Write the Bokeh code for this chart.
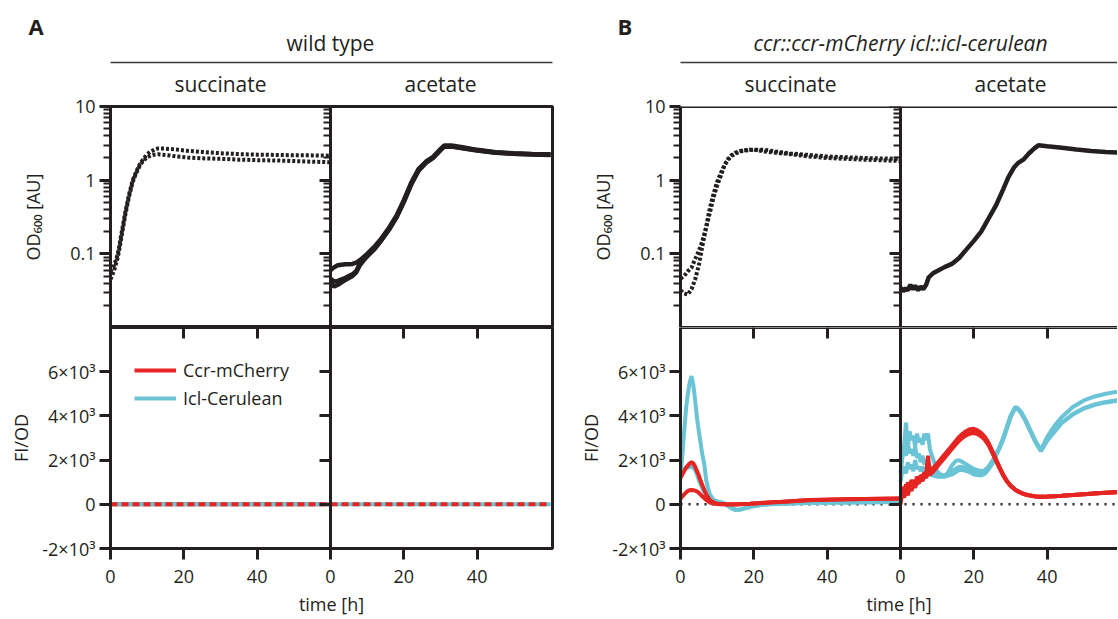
from bokeh.plotting import figure
from bokeh.models import (Range1d, LinearAxis, LogAxis, FixedTicker,
                          CustomJSTickFormatter, Legend, LegendItem, Span)
from bokeh.layouts import row, column
from bokeh.embed import file_html
from bokeh.resources import INLINE
from bokeh.core.properties import value

# ------------------------------------------------------------------ data
# wild type, succinate: OD600 (2 replicates)
WT_SUC_T = [0, 1, 2, 3, 4, 5, 6, 7, 8, 9, 10, 11, 12, 13, 15, 18, 21, 25, 30, 35, 40, 45, 50, 55, 60]
WT_SUC_OD_R1 = [0.057, 0.070, 0.100, 0.190, 0.360, 0.620, 0.980, 1.30, 1.65, 1.95, 2.25, 2.45, 2.60,
                2.70, 2.68, 2.60, 2.50, 2.42, 2.32, 2.26, 2.22, 2.20, 2.18, 2.17, 2.15]
WT_SUC_OD_R2 = [0.045, 0.060, 0.090, 0.170, 0.330, 0.580, 0.930, 1.25, 1.58, 1.85, 2.05, 2.15, 2.22,
                2.25, 2.20, 2.10, 2.03, 1.98, 1.95, 1.90, 1.87, 1.85, 1.82, 1.78, 1.75]

# wild type, acetate: OD600 (3 replicates)
WT_ACE_T = [0, 1, 2, 3, 4, 5, 6, 7, 8, 9, 10, 12, 14, 16, 18, 20, 22, 24, 26, 28, 30,
            31, 33, 36, 40, 45, 50, 55, 60]
WT_ACE_OD_R1 = [0.060, 0.066, 0.070, 0.071, 0.072, 0.072, 0.073, 0.076, 0.082, 0.090, 0.100,
                0.125, 0.165, 0.228, 0.330, 0.535, 0.92, 1.41, 1.78, 2.08, 2.64,
                2.95, 2.95, 2.79, 2.58, 2.40, 2.32, 2.27, 2.24]
WT_ACE_OD_R2 = [0.046, 0.042, 0.043, 0.045, 0.047, 0.050, 0.053, 0.058, 0.074, 0.084, 0.094,
                0.118, 0.158, 0.218, 0.318, 0.515, 0.89, 1.36, 1.73, 2.03, 2.58,
                2.88, 2.88, 2.73, 2.54, 2.37, 2.29, 2.24, 2.21]
WT_ACE_OD_R3 = [0.040, 0.036, 0.038, 0.041, 0.044, 0.047, 0.050, 0.056, 0.070, 0.081, 0.092,
                0.116, 0.155, 0.214, 0.312, 0.505, 0.87, 1.34, 1.71, 2.01, 2.55,
                2.85, 2.86, 2.71, 2.52, 2.36, 2.28, 2.23, 2.20]

# wild type: FI/OD (no reporter -> zero)
WT_FI_T = [0, 60]
WT_SUC_CCR = [0, 0]
WT_SUC_ICL = [0, 0]
WT_ACE_CCR = [0, 0]
WT_ACE_ICL = [0, 0]

# reporter strain, succinate: OD600 (2 replicates)
RP_SUC_T = [0, 1, 2, 3, 4, 5, 6, 7, 8, 9, 10, 11, 12, 13, 14, 15, 17, 20, 23, 26, 30, 35, 40, 45, 50, 55, 60]
RP_SUC_OD_R1 = [0.046, 0.050, 0.058, 0.065, 0.085, 0.110, 0.150, 0.230, 0.360, 0.580, 0.850,
                1.15, 1.60, 1.90, 2.14, 2.30, 2.50, 2.60, 2.58, 2.45, 2.30,
                2.20, 2.10, 2.05, 2.00, 1.97, 1.95]
RP_SUC_OD_R2 = [0.032, 0.029, 0.028, 0.033, 0.045, 0.070, 0.130, 0.230, 0.420, 0.650, 0.950,
                1.25, 1.60, 1.95, 2.20, 2.37, 2.55, 2.60, 2.45, 2.35, 2.25,
                2.10, 2.00, 1.95, 1.90, 1.86, 1.82]

# reporter strain, acetate: OD600
RP_ACE_T = [0, 0.7, 1.4, 2.0, 2.7, 3.4, 4.0, 4.8, 5.5, 6.2, 7.0, 7.7, 9, 10.4, 12, 14, 16, 18,
            20, 22, 24, 26, 28, 29.4, 31, 32, 33.5, 35, 36.5, 37.6, 40, 44, 48, 52, 56, 60]
RP_ACE_OD = [0.035, 0.031, 0.034, 0.032, 0.038, 0.033, 0.037, 0.032, 0.036, 0.033, 0.038, 0.048,
             0.055, 0.060, 0.066, 0.073, 0.088, 0.115, 0.150, 0.200, 0.300, 0.450, 0.750,
             1.09, 1.50, 1.70, 1.90, 2.30, 2.70, 2.97, 2.88, 2.76, 2.60, 2.48, 2.42, 2.37]

# reporter strain, succinate: FI/OD
RP_SUC_FI_T = [0, 0.5, 1, 1.5, 2, 2.5, 3, 3.5, 4, 4.5, 5, 5.5, 6, 6.5, 7, 7.5, 8, 9, 10, 11, 12,
               13, 14, 15, 16, 17, 19, 21, 24, 28, 35, 45, 55, 60]
RP_SUC_ICL_R1 = [1300, 2200, 3300, 4300, 5000, 5500, 5800, 5400, 4700, 3900, 3300, 2750, 2200, 1800,
                 1100, 750, 450, 200, 130, 100, 40, -80, -200, -260, -250, -200, -120, -60, 0, 40,
                 70, 90, 100, 100]
RP_SUC_ICL_R2 = [1400, 1500, 1600, 1650, 1650, 1700, 1700, 1650, 1550, 1350, 1100, 900, 700, 550,
                 400, 300, 200, 100, 70, 50, 20, -50, -150, -230, -250, -200, -100, -50, 0, 30,
                 55, 75, 90, 100]
RP_SUC_CCR_R1 = [1200, 1350, 1500, 1650, 1750, 1850, 1900, 1850, 1700, 1500, 1300, 1050, 850, 650,
                 450, 320, 200, 80, 30, 10, 0, -10, -10, -10, 0, 10, 20, 50, 80, 120, 190, 230,
                 255, 265]
RP_SUC_CCR_R2 = [250, 350, 450, 530, 600, 640, 650, 640, 620, 580, 520, 440, 350, 280, 200, 140,
                 80, 30, 10, 0, 0, 0, 0, 0, 5, 10, 20, 45, 80, 115, 185, 225, 250, 260]

# reporter strain, acetate: FI/OD
RP_ACE_FI_T = [0, 0.5, 1, 1.5, 2, 2.5, 3, 3.5, 4, 4.5, 5, 5.5, 6, 6.5, 7, 7.5, 8,
               9, 10, 11, 12, 13, 14, 15, 16, 17, 18, 19, 20, 21, 22, 23, 24, 25, 26, 27, 28, 29, 30,
               31.3, 32, 33, 34, 35, 36, 37, 38.3, 39, 40,
               42, 44, 47, 50, 53, 56, 60]
RP_ACE_ICL_R1 = [2000, 2400, 2700, 3700, 2600, 3300, 2900, 3100, 2600, 3200, 2800, 3000, 2700, 3200, 2900, 3200, 2500,
                 2000, 1500, 1300, 1250, 1450, 1750, 1950, 2000, 1900, 1800, 1700, 1600, 1550, 1500, 1550, 1700,
                 1950, 2250, 2600, 3000, 3500, 4000,
                 4400, 4350, 4150, 3850, 3500, 3150, 2800, 2450, 2700, 3050,
                 3550, 3950, 4400, 4700, 4880, 5000, 5120]
RP_ACE_ICL_R2 = [1400, 2100, 2400, 2200, 2800, 2300, 2500, 2200, 2600, 2100, 2300, 1900, 2200, 1800, 2000, 1750, 1700,
                 1500, 1400, 1350, 1300, 1400, 1500, 1600, 1700, 1680, 1620, 1550, 1450, 1400, 1350, 1400, 1600,
                 1850, 2200, 2550, 2950, 3450, 3950,
                 4380, 4330, 4120, 3820, 3470, 3120, 2770, 2420, 2620, 2900,
                 3300, 3700, 4080, 4350, 4520, 4630, 4730]
RP_ACE_ICL_R3 = [1000, 1500, 1700, 1400, 1900, 1600, 1800, 1500, 2000, 1600, 1700, 1500, 1700, 1450, 1500, 1400, 1350,
                 1300, 1250, 1250, 1250, 1300, 1350, 1450, 1550, 1550, 1500, 1450, 1350, 1320, 1300, 1380, 1580,
                 1830, 2180, 2530, 2930, 3430, 3930,
                 4360, 4310, 4100, 3800, 3450, 3100, 2750, 2400, 2600, 2880,
                 3280, 3680, 4060, 4330, 4500, 4610, 4710]
RP_ACE_CCR_R1 = [200, 700, 500, 900, 600, 1000, 800, 1100, 900, 1250, 1100, 1300, 1200, 1450, 1350, 2200, 1450,
                 1650, 1850, 2050, 2250, 2450, 2650, 2850, 3050, 3200, 3320, 3400, 3420, 3350, 3230, 3050, 2780,
                 2430, 2050, 1680, 1340, 1060, 850,
                 660, 590, 510, 450, 410, 380, 350, 340, 345, 350,
                 365, 385, 420, 460, 495, 525, 560]
RP_ACE_CCR_R2 = [400, 300, 800, 450, 1000, 700, 1100, 750, 1050, 900, 1150, 1050, 1350, 1200, 1450, 1350, 1550,
                 1550, 1750, 1950, 2150, 2350, 2550, 2750, 2900, 3050, 3150, 3200, 3220, 3180, 3080, 2920, 2680,
                 2350, 1990, 1640, 1310, 1040, 840,
                 655, 585, 505, 445, 405, 375, 348, 338, 343, 348,
                 362, 382, 417, 455, 490, 520, 555]
RP_ACE_CCR_R3 = [0, 500, 300, 700, 400, 800, 600, 950, 750, 1050, 950, 1200, 1050, 1300, 1200, 1400, 1350,
                 1500, 1700, 1900, 2100, 2300, 2500, 2700, 2880, 3020, 3130, 3220, 3260, 3230, 3140, 2980, 2730,
                 2390, 2020, 1660, 1325, 1050, 845,
                 658, 588, 508, 448, 408, 378, 349, 339, 344, 349,
                 363, 383, 418, 457, 492, 522, 557]

# ticks / labels
X_TICKS = [0, 20, 40]
X_TICK_LABELS = ["0", "20", "40"]
OD_TICKS = [0.1, 1, 10]
OD_TICK_LABELS = ["0.1", "1", "10"]
OD_MINOR = [0.02, 0.03, 0.04, 0.05, 0.06, 0.07, 0.08, 0.09,
            0.2, 0.3, 0.4, 0.5, 0.6, 0.7, 0.8, 0.9,
            2, 3, 4, 5, 6, 7, 8, 9]
FI_TICKS = [-2000, 0, 2000, 4000, 6000]
FI_TICK_LABELS = ["-2×10³", "0", "2×10³", "4×10³", "6×10³"]
OD_RANGE = (0.01, 10)
FI_RANGE = (-2000, 8000)
T_MAX = 60

PANEL_LETTERS = ["A", "B"]
PANEL_TITLES = ["wild type", "ccr::ccr-mCherry icl::icl-cerulean"]
MEDIA = ["succinate", "acetate"]
SERIES = ["Ccr-mCherry", "Icl-Cerulean"]
OD_LABEL = "OD₆₀₀ [AU]"
FI_LABEL = "FI/OD"
X_LABEL = "time [h]"

# ------------------------------------------------------------------ style / layout
INK = "#231F20"
RED = "#E42521"
CYAN = "#6AC4D6"
FONT = "Open Sans"
TICK_FS = "18px"
LABEL_FS = "18px"

HEADER_H = 66
TOP_BORDER = 40
FRAME_H = 221
BOTTOM_BORDER = 70
PX_PER_H = 220 / 60.0          # pixels per hour (both media share the same time scale)
SUCC_PX = 220                   # frame width of the succinate sub-panel


def fmt(ticks, labels):
    return CustomJSTickFormatter(args=dict(tv=list(ticks), tl=list(labels)), code="""
        for (let i = 0; i < tv.length; i++) {
            if (Math.abs(tick - tv[i]) <= 1e-9 * Math.max(1, Math.abs(tv[i]))) return tl[i];
        }
        return "";
    """)


def blank():
    return CustomJSTickFormatter(code="return '';")


def style_axis(ax, out=0, inn=0, mout=0, minn=0):
    ax.axis_line_color = INK
    ax.axis_line_width = 3
    ax.major_tick_line_color = INK
    ax.major_tick_line_width = 3
    ax.major_tick_out = out
    ax.major_tick_in = inn
    ax.minor_tick_line_color = INK
    ax.minor_tick_line_width = 2
    ax.minor_tick_out = mout
    ax.minor_tick_in = minn
    ax.major_label_text_font = FONT
    ax.major_label_text_font_size = TICK_FS
    ax.major_label_text_color = INK
    ax.major_label_standoff = 4
    ax.axis_label_text_font = FONT
    ax.axis_label_text_font_size = LABEL_FS
    ax.axis_label_text_font_style = "normal"
    ax.axis_label_text_color = INK
    return ax


def make_fig(height, bl, br, bt, bb, acet_px, y_rng, log, outline):
    frame_w = SUCC_PX + acet_px
    p = figure(width=bl + frame_w + br, height=height,
               x_range=Range1d(0, frame_w / PX_PER_H),
               y_range=Range1d(*y_rng),
               y_axis_type="log" if log else "linear",
               x_axis_location=None, y_axis_location=None,
               toolbar_location=None, output_backend="svg",
               min_border_left=bl, min_border_right=br,
               min_border_top=bt, min_border_bottom=bb)
    # acetate sub-panel: its own time axis, starting at the divider
    p.extra_x_ranges = {"acet": Range1d(-T_MAX, acet_px / PX_PER_H)}
    p.grid.visible = False
    p.outline_line_color = INK if outline else None
    p.outline_line_width = 3
    p.background_fill_color = "white"
    p.border_fill_color = "white"
    return p


def make_header(x0, width, letter, letter_x, title, italic, title_x, line_x0, line_x1):
    h = figure(width=width, height=HEADER_H,
               x_range=Range1d(x0, x0 + width), y_range=Range1d(HEADER_H, 0),
               x_axis_location=None, y_axis_location=None,
               toolbar_location=None, output_backend="svg", min_border=0,
               frame_align=False)
    h.grid.visible = False
    h.outline_line_color = None
    h.text(x=[letter_x], y=[25], text=[letter], text_font=value(FONT), text_font_size="22px",
           text_font_style="bold", text_color=INK, text_align="left", text_baseline="middle")
    h.text(x=[title_x], y=[42], text=[title], text_font=value(FONT), text_font_size="21px",
           text_font_style="italic" if italic else "normal", text_color=INK,
           text_align="center", text_baseline="middle")
    h.segment(x0=[line_x0], y0=[62], x1=[line_x1], y1=[62], line_color="#3a3a3a", line_width=1.5)
    return h


def build_panel(bl, br, acet_px, outline, suc_od, ace_od, suc_dash, fi_suc, fi_ace, zero_ref, legend):
    # time ticks of both sub-panels, expressed on the shared (succinate-based) axis
    t_ticks = X_TICKS + [T_MAX + t for t in X_TICKS]
    t_labels = X_TICK_LABELS + X_TICK_LABELS
    inner_ticks = [t for t in t_ticks if t not in (0, T_MAX)]
    media_pos = [T_MAX * i + T_MAX / 2 for i in range(len(MEDIA))]   # centre of each 0-60 h span

    # ---- top row: OD600
    top = make_fig(TOP_BORDER + FRAME_H, bl, br, TOP_BORDER, 0, acet_px, OD_RANGE, True, outline)
    ax = style_axis(LogAxis(ticker=FixedTicker(ticks=OD_TICKS, minor_ticks=OD_MINOR),
                            formatter=fmt(OD_TICKS, OD_TICK_LABELS), axis_label=OD_LABEL),
                    out=11, mout=7)
    ax.axis_label_standoff = 22
    top.add_layout(ax, "left")
    top.add_layout(style_axis(LogAxis(fixed_location=T_MAX,
                                      ticker=FixedTicker(ticks=OD_TICKS, minor_ticks=OD_MINOR),
                                      formatter=blank()), out=11, mout=7), "left")
    top.add_layout(style_axis(LinearAxis(fixed_location=OD_RANGE[1], ticker=FixedTicker(ticks=[]),
                                         formatter=blank())), "above")
    top.add_layout(style_axis(LinearAxis(fixed_location=OD_RANGE[0], ticker=FixedTicker(ticks=[]),
                                         formatter=blank())), "below")
    # facet (medium) names as labels of a tickless axis above the frame
    media_ax = style_axis(LinearAxis(ticker=FixedTicker(ticks=media_pos), formatter=fmt(media_pos, MEDIA)))
    media_ax.axis_line_color = None
    media_ax.major_tick_line_color = None
    media_ax.major_label_text_font_size = "21px"
    media_ax.major_label_standoff = 9
    top.add_layout(media_ax, "above")
    for t, y in suc_od:
        top.line(t, y, line_color=INK, line_width=4, line_dash=suc_dash)
    for t, y in ace_od:
        top.line(t, y, line_color=INK, line_width=4.5, x_range_name="acet")

    # ---- bottom row: FI/OD
    bot = make_fig(FRAME_H + BOTTOM_BORDER, bl, br, 0, BOTTOM_BORDER, acet_px, FI_RANGE, False, outline)
    ax = style_axis(LinearAxis(ticker=FixedTicker(ticks=FI_TICKS),
                               formatter=fmt(FI_TICKS, FI_TICK_LABELS), axis_label=FI_LABEL), out=11)
    ax.axis_label_standoff = 6
    bot.add_layout(ax, "left")
    bot.add_layout(style_axis(LinearAxis(fixed_location=T_MAX, ticker=FixedTicker(ticks=FI_TICKS),
                                         formatter=blank()), out=11), "left")
    bot.add_layout(style_axis(LinearAxis(fixed_location=FI_RANGE[1], ticker=FixedTicker(ticks=inner_ticks),
                                         formatter=blank()), inn=11), "above")
    ax = style_axis(LinearAxis(ticker=FixedTicker(ticks=t_ticks), formatter=fmt(t_ticks, t_labels),
                               axis_label=X_LABEL), out=11)
    ax.major_label_standoff = 10
    ax.axis_label_standoff = 6
    bot.add_layout(ax, "below")
    if zero_ref:
        bot.add_layout(Span(location=0, dimension="width", line_color=INK, line_width=2.5,
                            line_dash="2 6", level="underlay"))
    legend_items = {}
    for rng, series in (("default", fi_suc), ("acet", fi_ace)):
        for t, y, color, dash, name in series:
            r = bot.line(t, y, line_color=color, line_width=4, line_dash=dash, x_range_name=rng)
            if name and name not in legend_items:
                legend_items[name] = r
    if legend:
        lg = Legend(items=[LegendItem(label=n, renderers=[legend_items[n]]) for n in SERIES],
                    location=(24, 138), padding=0, margin=0, spacing=4,
                    glyph_width=42, glyph_height=20, label_height=20, label_standoff=7,
                    label_text_font=FONT, label_text_font_size="18px", label_text_color=INK,
                    background_fill_alpha=0, border_line_color=None)
        bot.add_layout(lg)
    return top, bot


# ------------------------------------------------------------------ panel A (wild type)
A_W = 110 + 220 + 222 + 10
hA = make_header(0, A_W, PANEL_LETTERS[0], 28, PANEL_TITLES[0], False, 330, 110, 552)
topA, botA = build_panel(
    110, 10, 222, True,
    suc_od=[(WT_SUC_T, WT_SUC_OD_R1), (WT_SUC_T, WT_SUC_OD_R2)],
    ace_od=[(WT_ACE_T, WT_ACE_OD_R1), (WT_ACE_T, WT_ACE_OD_R2), (WT_ACE_T, WT_ACE_OD_R3)],
    suc_dash="3 2",
    # solid red underneath the solid cyan (it provides the legend sample), dashed red on top
    fi_suc=[(WT_FI_T, WT_SUC_CCR, RED, "solid", SERIES[0]), (WT_FI_T, WT_SUC_ICL, CYAN, "solid", SERIES[1]),
            (WT_FI_T, WT_SUC_CCR, RED, "7 4", None)],
    fi_ace=[(WT_FI_T, WT_ACE_ICL, CYAN, "solid", None), (WT_FI_T, WT_ACE_CCR, RED, "7 4", None)],
    zero_ref=False, legend=True)

# ------------------------------------------------------------------ panel B (reporter strain)
B_W = 118 + 220 + 217
hB = make_header(A_W, B_W, PANEL_LETTERS[1], 617, PANEL_TITLES[1], True, 900, 680, 1118)
topB, botB = build_panel(
    118, 0, 217, False,
    suc_od=[(RP_SUC_T, RP_SUC_OD_R1), (RP_SUC_T, RP_SUC_OD_R2)],
    ace_od=[(RP_ACE_T, RP_ACE_OD)],
    suc_dash="3 2",
    fi_suc=[(RP_SUC_FI_T, RP_SUC_ICL_R1, CYAN, "solid", None), (RP_SUC_FI_T, RP_SUC_ICL_R2, CYAN, "solid", None),
            (RP_SUC_FI_T, RP_SUC_CCR_R1, RED, "solid", None), (RP_SUC_FI_T, RP_SUC_CCR_R2, RED, "solid", None)],
    fi_ace=[(RP_ACE_FI_T, RP_ACE_ICL_R1, CYAN, "solid", None), (RP_ACE_FI_T, RP_ACE_ICL_R2, CYAN, "solid", None),
            (RP_ACE_FI_T, RP_ACE_ICL_R3, CYAN, "solid", None),
            (RP_ACE_FI_T, RP_ACE_CCR_R1, RED, "solid", None), (RP_ACE_FI_T, RP_ACE_CCR_R2, RED, "solid", None),
            (RP_ACE_FI_T, RP_ACE_CCR_R3, RED, "solid", None)],
    zero_ref=True, legend=False)

layout = row(column(hA, topA, botA), column(hB, topB, botB))
open("out.html", "w").write(file_html(layout, INLINE))
